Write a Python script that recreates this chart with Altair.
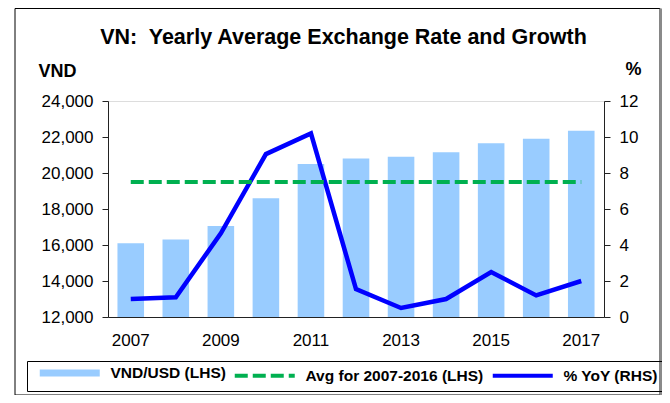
import altair as alt
import pandas as pd

# ---- data ----
years = [2007, 2008, 2009, 2010, 2011, 2012, 2013, 2014, 2015, 2016, 2017]
vnd_usd = [16100, 16300, 17050, 18600, 20500, 20800, 20900, 21150, 21650, 21900, 22350]
yoy_pct = [1.0, 1.1, 4.65, 9.05, 10.2, 1.55, 0.5, 1.0, 2.5, 1.2, 2.0]
avg_2007_2016 = 19500

series_names = ["VND/USD (LHS)", "Avg for 2007-2016 (LHS)", "% YoY (RHS)"]
series_colors = ["#99CCFF", "#00B050", "#0000FF"]
left_ticks = [12000, 14000, 16000, 18000, 20000, 22000, 24000]
right_ticks = [0, 2, 4, 6, 8, 10, 12]
year_labels = [2007, 2009, 2011, 2013, 2015, 2017]

FONT = "Liberation Sans"

df = pd.DataFrame({"year": years, "vnd": vnd_usd, "yoy": yoy_pct})
df["avg"] = avg_2007_2016

x_enc = alt.X(
    "year:O",
    scale=alt.Scale(paddingInner=0.41, paddingOuter=0.21),
    axis=alt.Axis(
        values=year_labels, title=None, labelAngle=0, ticks=False,
        labelPadding=15, labelFontSize=17, labelFont=FONT, labelColor="black",
        domainColor="#222", domainWidth=1, grid=False,
    ),
)

bar_name, avg_name, yoy_name = series_names

stroke_expr = "datum.value == '%s' ? '%s' : datum.value == '%s' ? '%s' : '%s'" % (
    bar_name, series_colors[0], avg_name, series_colors[1], series_colors[2])

legend = alt.Legend(
    title=None, orient="none", legendX=-81, legendY=260,
    direction="horizontal", columns=3, strokeColor="black", padding=4,
    labelFont=FONT, labelFontSize=15.5, labelFontWeight="bold", labelColor="black",
    labelLimit=0,
    symbolType="M-1,0H11", symbolSize=100, symbolOffset=6,
    symbolStrokeWidth=alt.ExprRef(expr="datum.value == '%s' ? 7 : 4" % bar_name),
    symbolDash=alt.ExprRef(expr="datum.value == '%s' ? [13, 5] : [1, 0]" % avg_name),
    symbolStrokeColor=alt.ExprRef(expr=stroke_expr),
    symbolOpacity=1,
    labelOffset=58, columnPadding=-9,
)

color_enc = alt.Color(
    "series:N",
    scale=alt.Scale(domain=series_names, range=series_colors),
    legend=legend,
)

bars = (
    alt.Chart(df)
    .transform_calculate(series="'%s'" % bar_name)
    .mark_bar(opacity=1, clip=True)
    .encode(
        x=x_enc,
        y=alt.Y(
            "vnd:Q",
            scale=alt.Scale(domain=[12000, 24000], nice=False, zero=False),
            axis=alt.Axis(
                orient="left", values=left_ticks,
                labelExpr="format(datum.value, ',')", grid=False,
                title="VND", titleAngle=0, titleAlign="center", titleBaseline="middle",
                titleX=-51, titleY=-30, titleFontSize=18, titleFontWeight="bold",
                titleFont=FONT, titleColor="black",
                labelFontSize=17, labelFont=FONT, labelColor="black", labelPadding=9,
                tickSize=6, tickColor="#222", domainColor="#222",
            ),
        ),
        color=color_enc,
    )
)

yoy_line = (
    alt.Chart(df)
    .transform_calculate(series="'%s'" % yoy_name)
    .mark_line(strokeWidth=4.5)
    .encode(
        x=x_enc,
        y=alt.Y(
            "yoy:Q",
            scale=alt.Scale(domain=[0, 12], nice=False),
            axis=alt.Axis(
                orient="right", values=right_ticks, grid=False,
                title="%", titleAngle=0, titleAlign="center", titleBaseline="middle",
                titleX=29, titleY=-32, titleFontSize=18, titleFontWeight="bold",
                titleFont=FONT, titleColor="black",
                labelFontSize=17, labelFont=FONT, labelColor="black", labelPadding=9,
                tickSize=6, tickColor="#222", domainColor="#222",
            ),
        ),
        color=color_enc,
    )
)

avg_line = (
    alt.Chart(df)
    .transform_calculate(series="'%s'" % avg_name)
    .mark_line(strokeWidth=4, strokeDash=[13, 5])
    .encode(
        x=x_enc,
        y=alt.Y("avg:Q", scale=alt.Scale(domain=[12000, 24000], nice=False, zero=False), axis=None),
        color=color_enc,
    )
)

frame_df = pd.DataFrame({"k": [0]})
frame = (
    alt.Chart(frame_df)
    .mark_rect(fill="transparent", stroke="black", strokeWidth=1, clip=False)
    .encode(x=alt.value(-93), x2=alt.value(552), y=alt.value(-92.5), y2=alt.value(294))
)
frame_right = (
    alt.Chart(frame_df)
    .mark_rule(color="#8a8a8a", strokeWidth=3, clip=False)
    .encode(x=alt.value(553), y=alt.value(-92.5), y2=alt.value(294))
)

chart = (
    alt.layer(bars, yoy_line, avg_line, frame, frame_right)
    .resolve_scale(y="independent")
    .properties(
        width=496,
        height=216,
        autosize=alt.AutoSizeParams(type="none"),
        padding={"left": 100, "top": 93, "right": 58, "bottom": 78},
        title=alt.TitleParams(
            "VN:\u00a0 Yearly Average Exchange Rate and Growth",
            fontSize=21.5, fontWeight="bold", font=FONT, color="black",
            anchor="middle", frame="group", dx=-12.5, offset=0,
            baseline="alphabetic", dy=58,
        ),
    )
    .configure_view(stroke="transparent")
    .configure(font=FONT)
)

chart.save("out.html", embed_options={"renderer": "svg", "actions": False})
